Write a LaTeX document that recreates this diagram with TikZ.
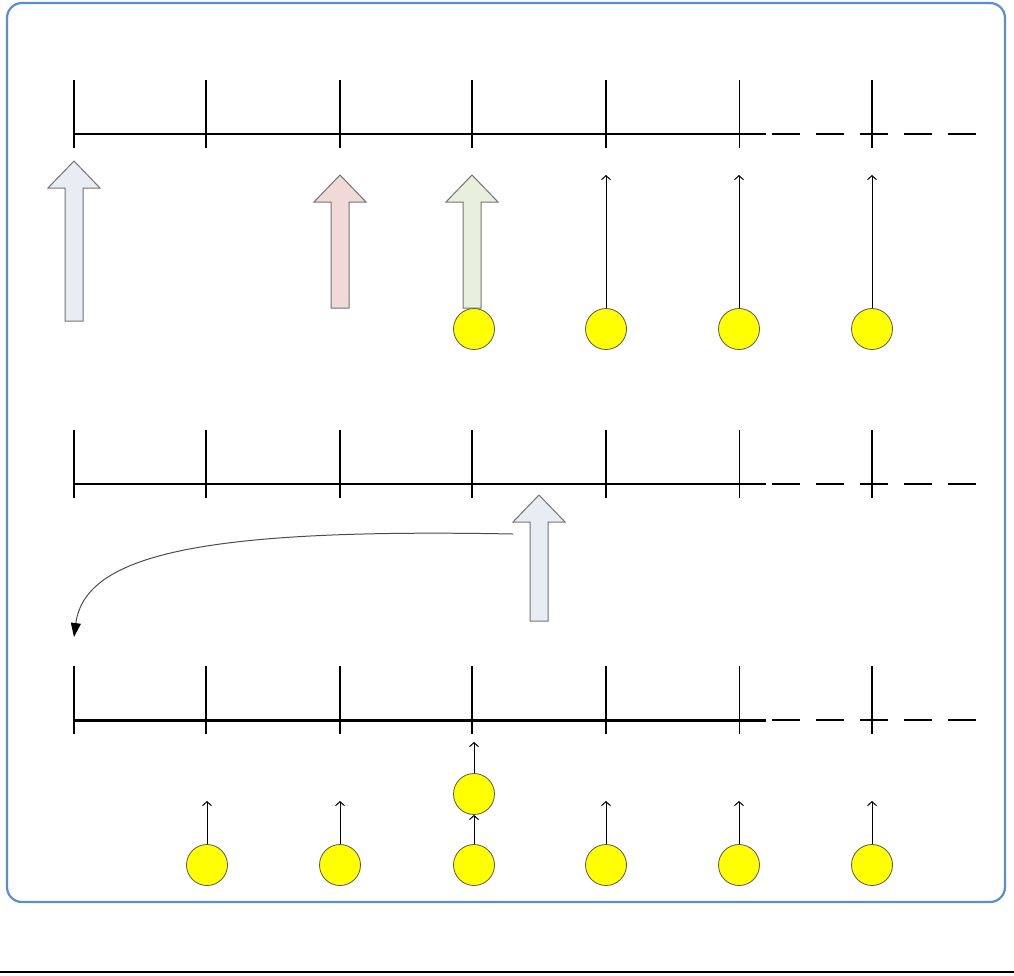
\documentclass[tikz,border=0pt]{standalone}
\usepackage{tikz}
\usetikzlibrary{arrows.meta}
\definecolor{framebl}{RGB}{91,141,213}
\definecolor{arrbl}{RGB}{232,237,244}
\definecolor{arrrd}{RGB}{240,218,216}
\definecolor{arrgr}{RGB}{233,239,221}
\definecolor{ballyl}{RGB}{255,255,0}
\tikzset{
    ball/.style={circle,draw=black!65,fill=ballyl,minimum size=20.5pt,inner sep=0pt},
    thinarrow/.style={-{Straight Barb[length=2pt,width=4.5pt]},line width=0.5pt},
    fatarrow/.style={draw=black!55,line width=0.5pt},
}

\begin{document}
\begin{tikzpicture}[x=0.5pt,y=-0.5pt]
        \useasboundingbox (0,0) rectangle (1014,976);
        \draw[framebl,line width=1.1pt,rounded corners=7.5pt] (7,3) rectangle (1005,902);
        \draw[line width=0.8pt] (0,972)--(1014,972);%页脚线
        % 三条数轴
        \foreach \y/\w/\d in {134/1pt/1pt,484/1pt/1pt,720/1.5pt/0.6pt}
        {
            \draw[line width=\w] (74,\y)--(766,\y);
            \draw[line width=\d,dash pattern=on 14pt off 8pt] (772,\y)--(978,\y);
            \foreach \x in {74,206,340,472,606,872}
                \draw[line width=1pt] (\x,\y-54)--(\x,\y+14);
            \draw[line width=0.5pt] (739,\y-54)--(739,\y+14);
        }
        % 块状箭头
        \foreach \x/\tip/\bot/\col in {74/161/321/arrbl,340/175/308/arrrd,472/175/308/arrgr,539/495/621/arrbl}
        {
            \filldraw[fatarrow,fill=\col] (\x,\tip)--(\x+26,\tip+27)--(\x+9,\tip+27)--(\x+9,\bot)
                --(\x-9,\bot)--(\x-9,\tip+27)--(\x-26,\tip+27)--cycle;
        }
        % 上面一行
        \foreach \x [count=\i] in {474,606,739,872}
        {
            \node[ball] (t\i) at (\x,329) {};
            \coordinate (tp\i) at (\x,175);
        }
        \foreach \i in {2,3,4}
            \draw[thinarrow] (t\i.north)--(tp\i);
        % 下面一行
        \foreach \x [count=\i] in {207,340,474,606,739,872}
        {
            \node[ball] (b\i) at (\x,865) {};
            \coordinate (bp\i) at (\x,801);
        }
        \foreach \i in {1,2,4,5,6}
            \draw[thinarrow] (b\i.north)--(bp\i);
        \node[ball] (m) at (474,794) {};
        \coordinate (mp) at (474,742);
        \draw[thinarrow] (b3.north)--(m.south);
        \draw[thinarrow] (m.north)--(mp);
        % 弯曲箭头
        \coordinate (cs) at (513,534);
        \coordinate (ce) at (74,637);
        \draw[black!70,line width=0.5pt,-{Triangle[length=7pt,width=5pt,black]}]
            (cs) .. controls (200,528) and (85,555) .. (ce);
\end{tikzpicture}
\end{document}
